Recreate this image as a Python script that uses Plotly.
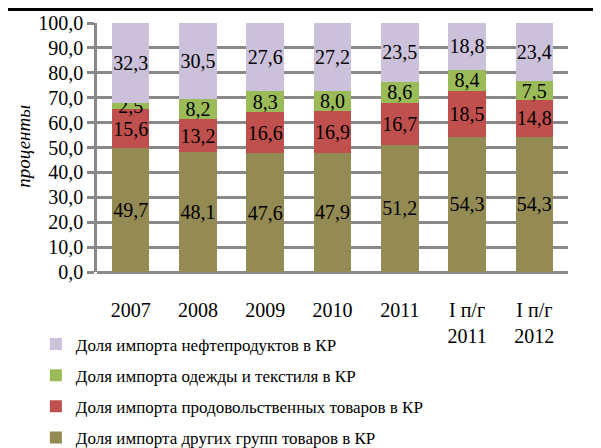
import plotly.graph_objects as go

categories = ["2007", "2008", "2009", "2010", "2011", "I п/г<br>2011", "I п/г<br>2012"]
other_goods = [49.7, 48.1, 47.6, 47.9, 51.2, 54.3, 54.3]
food = [15.6, 13.2, 16.6, 16.9, 16.7, 18.5, 14.8]
clothing = [2.5, 8.2, 8.3, 8.0, 8.6, 8.4, 7.5]
oil = [32.3, 30.5, 27.6, 27.2, 23.5, 18.8, 23.4]

series = [
    ("Доля импорта других групп товаров в КР", other_goods, "#948A54"),
    ("Доля импорта продовольственных товаров в КР", food, "#C0504D"),
    ("Доля импорта одежды и текстиля в КР", clothing, "#9BBB59"),
    ("Доля импорта нефтепродуктов в КР", oil, "#CCC1DA"),
]

font = "Liberation Serif, Times New Roman, serif"

fig = go.Figure()
for i, (name, vals, color) in enumerate(series):
    fig.add_trace(go.Bar(
        x=categories, y=vals, name=name, legendgroup=str(i), legendrank=100 - i,
        marker=dict(color=color, line=dict(width=0)),
        text=vals, texttemplate="%{y:.1f}", textposition="inside", textangle=0,
        insidetextanchor="middle", constraintext="none",
        textfont=dict(family=font, size=20, color="black"),
        hoverinfo="skip",
    ))

# page has an 8px body margin, so the figure is a bit smaller than the window
fig.update_layout(
    barmode="stack", bargap=0.44,
    width=593, height=440,
    margin=dict(l=89, r=33, t=15, b=176, autoexpand=False),
    paper_bgcolor="white", plot_bgcolor="white",
    separators=", ",
    font=dict(family=font, size=17, color="black"),
    uniformtext=dict(minsize=20, mode="show"),
    showlegend=True,
    legend=dict(
        xref="container", yref="container",
        x=0.047, y=0.276, xanchor="left", yanchor="top",
        traceorder="grouped", tracegroupgap=6,
        font=dict(family=font, size=17), itemwidth=30,
    ),
    xaxis=dict(
        showgrid=False, showline=False, ticks="", automargin=False,
        tickfont=dict(family=font, size=20), ticklabelstandoff=24,
    ),
    yaxis=dict(
        range=[0, 100], dtick=10, tickformat=".1f", automargin=False,
        showgrid=True, gridcolor="#888888", gridwidth=2.5,
        showline=True, linecolor="#888888", linewidth=2.5,
        ticks="outside", ticklen=7, tickcolor="#888888", tickwidth=2.5,
        zeroline=True, zerolinecolor="#888888", zerolinewidth=2.5,
        tickfont=dict(family=font, size=20),
    ),
    annotations=[
        dict(text="<i>проценты</i>", xref="paper", yref="paper", x=-0.184, y=0.506,
             textangle=-90, showarrow=False, font=dict(family=font, size=19)),
    ],
    shapes=[
        dict(type="line", xref="paper", yref="paper", x0=-0.25, x1=1.1,
             y0=1.054, y1=1.054, line=dict(color="black", width=3)),
        dict(type="line", xref="paper", yref="paper", x0=1.064, x1=1.064,
             y0=1.0, y1=-0.7, line=dict(color="#c8c8c8", width=1, dash="dot")),
    ],
)

fig.write_html("out.html")
